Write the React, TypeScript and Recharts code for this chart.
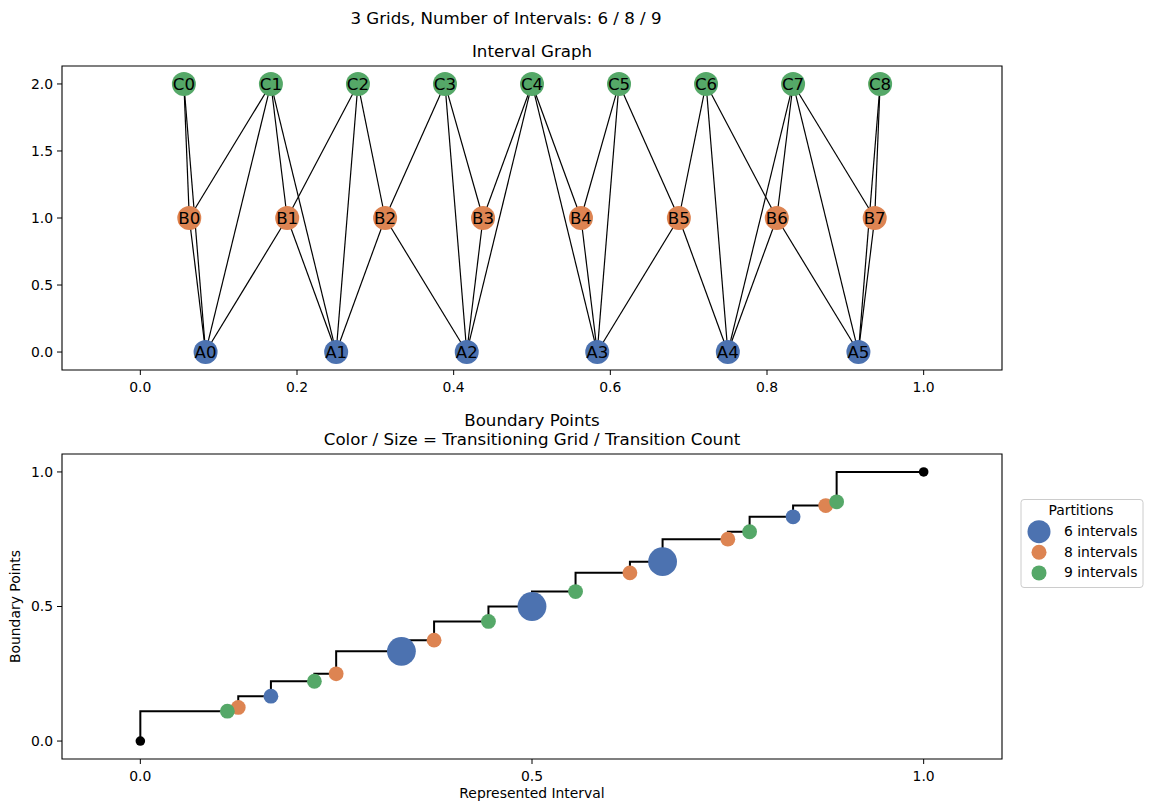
import React from "react";
import { ComposedChart, Line, Scatter, XAxis, YAxis, ReferenceArea, Legend } from "recharts";

const BLUE = "#4c72b0";
const ORANGE = "#dd8452";
const GREEN = "#55a868";
const FONT = "'DejaVu Sans', sans-serif";

// Interval graph: one node per interval, placed at the interval midpoint
const gridANodes = [0.0833, 0.25, 0.4167, 0.5833, 0.75, 0.9167];
const gridBNodes = [0.0625, 0.1875, 0.3125, 0.4375, 0.5625, 0.6875, 0.8125, 0.9375];
const gridCNodes = [0.0556, 0.1667, 0.2778, 0.3889, 0.5, 0.6111, 0.7222, 0.8333, 0.9444];
const gridLevels = { A: 0, B: 1, C: 2 };

// pairs of overlapping intervals
const edgeList: [string, string][] = [
  ["A0", "B0"], ["A0", "B1"], ["A1", "B1"], ["A1", "B2"], ["A2", "B2"], ["A2", "B3"],
  ["A3", "B4"], ["A3", "B5"], ["A4", "B5"], ["A4", "B6"], ["A5", "B6"], ["A5", "B7"],
  ["A0", "C0"], ["A0", "C1"], ["A1", "C1"], ["A1", "C2"], ["A2", "C3"], ["A2", "C4"],
  ["A3", "C4"], ["A3", "C5"], ["A4", "C6"], ["A4", "C7"], ["A5", "C7"], ["A5", "C8"],
  ["B0", "C0"], ["B0", "C1"], ["B1", "C1"], ["B1", "C2"], ["B2", "C2"], ["B2", "C3"],
  ["B3", "C3"], ["B3", "C4"], ["B4", "C4"], ["B4", "C5"], ["B5", "C5"], ["B5", "C6"],
  ["B6", "C6"], ["B6", "C7"], ["B7", "C7"], ["B7", "C8"],
];

// Boundary points of the merged partitions
const boundaryPoints = [
  0, 0.1111, 0.125, 0.1667, 0.2222, 0.25, 0.3333, 0.375, 0.4444, 0.5,
  0.5556, 0.625, 0.6667, 0.75, 0.7778, 0.8333, 0.875, 0.8889, 1,
];
// which grid transitions at each point (0 = start / end of the range)
const transitionGrid = [0, 9, 8, 6, 9, 8, 6, 8, 9, 6, 9, 8, 6, 8, 9, 6, 8, 9, 0];
const transitionCount = [1, 1, 1, 1, 1, 1, 2, 1, 1, 2, 1, 1, 2, 1, 1, 1, 1, 1, 1];

const partitions = [
  { grid: 6, name: "6 intervals", color: BLUE, legendR: 11.5 },
  { grid: 8, name: "8 intervals", color: ORANGE, legendR: 7.5 },
  { grid: 9, name: "9 intervals", color: GREEN, legendR: 7.5 },
];

const makeNodes = (prefix: "A" | "B" | "C", xs: number[]) =>
  xs.map((x, i) => ({ x, y: gridLevels[prefix], label: `${prefix}${i}` }));

const nodesA = makeNodes("A", gridANodes);
const nodesB = makeNodes("B", gridBNodes);
const nodesC = makeNodes("C", gridCNodes);
const nodeIndex: Record<string, { x: number; y: number }> = {};
[...nodesA, ...nodesB, ...nodesC].forEach((n) => (nodeIndex[n.label] = n));

const boundaryData = boundaryPoints.map((b, i) => ({
  x: b,
  y: b,
  grid: transitionGrid[i],
  count: transitionCount[i],
}));

const fmt = (v: number) => v.toFixed(1);
const tickStyle = { fill: "#000", fontSize: 13.9, fontFamily: FONT };

const nodeShape = (color: string) => (props: any) => {
  const { cx, cy, payload } = props;
  return (
    <g>
      <circle cx={cx} cy={cy} r={12} fill={color} />
      <text x={cx} y={cy + 6} textAnchor="middle" fontSize={16.67} fontFamily={FONT} fill="#000">
        {payload.label}
      </text>
    </g>
  );
};

const boundaryShape = (color: string) => (props: any) => {
  const { cx, cy, payload } = props;
  const r = payload.grid === 0 ? 4.8 : payload.count > 1 ? 14.4 : 7.4;
  return <circle cx={cx} cy={cy} r={r} fill={color} />;
};

function PartitionLegend() {
  return (
    <svg width={124} height={90} style={{ display: "block" }}>
      <rect x={1} y={0.5} width={122} height={88} rx={3} fill="#fff" fillOpacity={0.8} stroke="#cccccc" />
      <text x={61} y={16} textAnchor="middle" fontSize={13.9} fontFamily={FONT} fill="#000">
        Partitions
      </text>
      {partitions.map((p, i) => (
        <g key={p.name}>
          <circle cx={19} cy={32.7 + i * 20.6} r={p.legendR} fill={p.color} />
          <text x={44} y={37 + i * 20.6} fontSize={13.9} fontFamily={FONT} fill="#000">
            {p.name}
          </text>
        </g>
      ))}
    </svg>
  );
}

function IntervalGraph() {
  return (
    <ComposedChart width={1158} height={400} margin={{ top: 66, right: 156, bottom: 0, left: 0 }}>
      <XAxis
        type="number"
        dataKey="x"
        domain={[-0.1, 1.1]}
        allowDataOverflow
        ticks={[0, 0.2, 0.4, 0.6, 0.8, 1]}
        tickFormatter={fmt}
        axisLine={false}
        tickLine={{ stroke: "#000" }}
        tickSize={5}
        tickMargin={7}
        tick={tickStyle}
        height={30}
      />
      <YAxis
        type="number"
        dataKey="y"
        domain={[-0.134, 2.134]}
        allowDataOverflow
        ticks={[0, 0.5, 1, 1.5, 2]}
        tickFormatter={fmt}
        axisLine={false}
        tickLine={{ stroke: "#000" }}
        tickSize={5}
        tickMargin={4}
        tick={tickStyle}
        width={62}
      />
      <ReferenceArea x1={-0.1} x2={1.1} y1={-0.134} y2={2.134} fill="none" stroke="#000" strokeWidth={1.1} />
      {edgeList.map(([a, b]) => (
        <Line
          key={`${a}-${b}`}
          data={[nodeIndex[a], nodeIndex[b]]}
          dataKey="y"
          type="linear"
          stroke="#000"
          strokeWidth={1.2}
          dot={false}
          activeDot={false}
          isAnimationActive={false}
        />
      ))}
      <Scatter data={nodesA} shape={nodeShape(BLUE)} isAnimationActive={false} />
      <Scatter data={nodesB} shape={nodeShape(ORANGE)} isAnimationActive={false} />
      <Scatter data={nodesC} shape={nodeShape(GREEN)} isAnimationActive={false} />
    </ComposedChart>
  );
}

function BoundaryChart() {
  return (
    <ComposedChart width={1158} height={411} margin={{ top: 54, right: 156, bottom: 0, left: 0 }}>
      <XAxis
        type="number"
        dataKey="x"
        domain={[-0.1, 1.1]}
        allowDataOverflow
        ticks={[0, 0.5, 1]}
        tickFormatter={fmt}
        axisLine={false}
        tickLine={{ stroke: "#000" }}
        tickSize={5}
        tickMargin={7}
        tick={tickStyle}
        height={52}
      />
      <YAxis
        type="number"
        dataKey="y"
        domain={[-0.0667, 1.0667]}
        allowDataOverflow
        ticks={[0, 0.5, 1]}
        tickFormatter={fmt}
        axisLine={false}
        tickLine={{ stroke: "#000" }}
        tickSize={5}
        tickMargin={4}
        tick={tickStyle}
        width={62}
      />
      <ReferenceArea x1={-0.1} x2={1.1} y1={-0.0667} y2={1.0667} fill="none" stroke="#000" strokeWidth={1.1} />
      <Line
        data={boundaryData}
        dataKey="y"
        type="stepBefore"
        stroke="#000"
        strokeWidth={2}
        dot={false}
        activeDot={false}
        isAnimationActive={false}
      />
      {partitions.map((p) => (
        <Scatter
          key={p.grid}
          name={p.name}
          data={boundaryData.filter((d) => d.grid === p.grid)}
          fill={p.color}
          shape={boundaryShape(p.color)}
          isAnimationActive={false}
        />
      ))}
      <Scatter
        data={boundaryData.filter((d) => d.grid === 0)}
        fill="#000"
        shape={boundaryShape("#000")}
        isAnimationActive={false}
        legendType="none"
      />
      <Legend
        layout="horizontal"
        verticalAlign="middle"
        align="center"
        content={() => <PartitionLegend />}
        wrapperStyle={{ position: "absolute", left: 1020, top: 99, width: 124, height: 90 }}
      />
    </ComposedChart>
  );
}

export default function App() {
  return (
    <div
      style={{
        position: "absolute",
        left: 0,
        top: 0,
        width: 1158,
        height: 811,
        background: "#fff",
        fontFamily: FONT,
      }}
    >
      <div style={{ position: "absolute", left: 0, top: 0 }}>
        <IntervalGraph />
      </div>
      <div style={{ position: "absolute", left: 0, top: 400 }}>
        <BoundaryChart />
      </div>
      <svg
        width={1158}
        height={811}
        style={{ position: "absolute", left: 0, top: 0, pointerEvents: "none" }}
        fontFamily={FONT}
      >
        <text x={506} y={24} textAnchor="middle" fontSize={16.67} fill="#000">
          3 Grids, Number of Intervals: 6 / 8 / 9
        </text>
        <text x={532} y={57} textAnchor="middle" fontSize={16.67} fill="#000">
          Interval Graph
        </text>
        <text x={532} y={425.5} textAnchor="middle" fontSize={16.67} fill="#000">
          Boundary Points
        </text>
        <text x={532} y={445} textAnchor="middle" fontSize={16.67} fill="#000">
          Color / Size = Transitioning Grid / Transition Count
        </text>
        <text x={532} y={798} textAnchor="middle" fontSize={13.9} fill="#000">
          Represented Interval
        </text>
        <text x={20} y={606.5} textAnchor="middle" fontSize={13.9} fill="#000" transform="rotate(-90 20 606.5)">
          Boundary Points
        </text>
      </svg>
    </div>
  );
}
